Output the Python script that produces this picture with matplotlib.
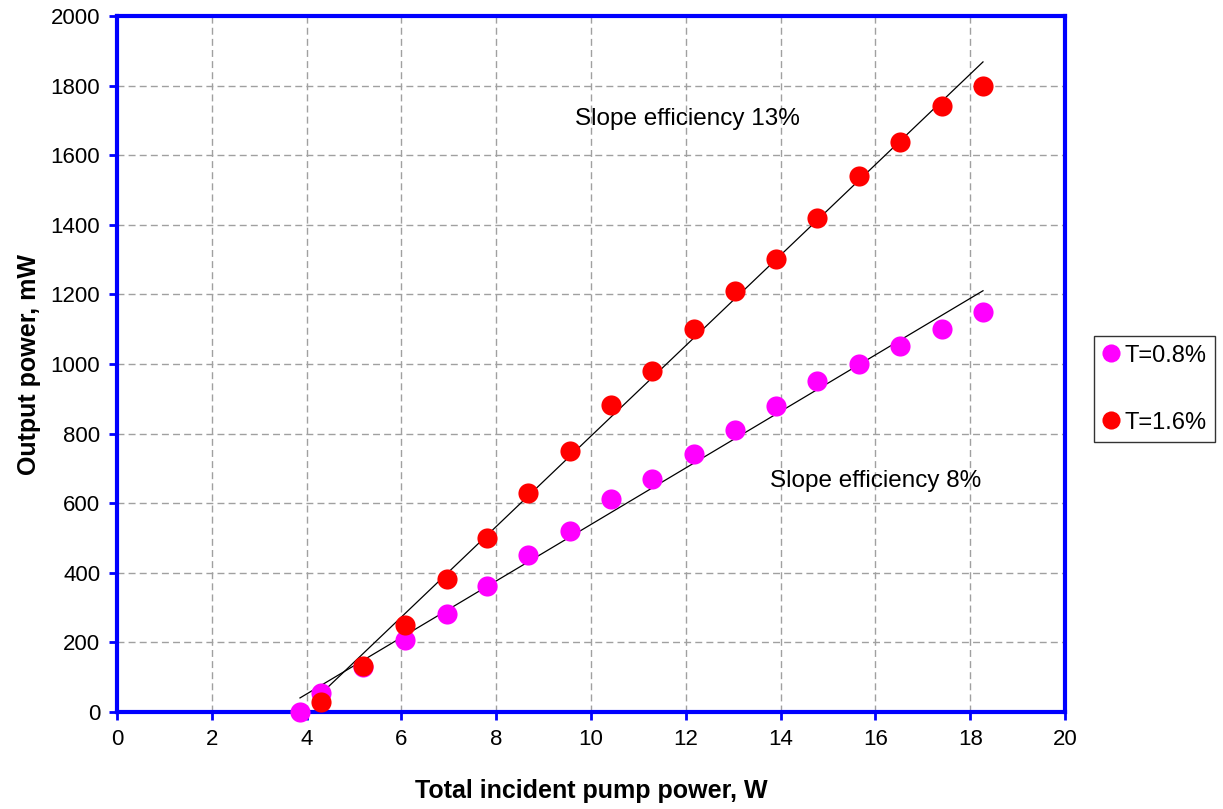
import numpy as np
import matplotlib
matplotlib.use('Agg')
import matplotlib.pyplot as plt

plt.rcParams['font.family'] = ['Liberation Sans', 'DejaVu Sans']

# pump power, W (same for both series)
pump_w = [3.86, 4.30, 5.19, 6.08, 6.96, 7.81, 8.67, 9.56, 10.42, 11.29,
          12.17, 13.04, 13.90, 14.77, 15.65, 16.52, 17.41, 18.27]

# output power, mW
out_t08 = [0, 55, 130, 207, 282, 362, 451, 520, 612, 669,
           741, 810, 879, 951, 1000, 1052, 1100, 1149]
out_t16 = [None, 29, 132, 250, 382, 500, 629, 750, 882, 980,
           1100, 1210, 1302, 1420, 1540, 1638, 1741, 1799]

# trend lines: slope (mW/W), intercept (mW), x range
fit_t08 = (81.2, -273.0, 3.86, 18.27)
fit_t16 = (130.0, -507.0, 4.30, 18.27)

xticks = np.arange(0, 21, 2)
yticks = np.arange(0, 2001, 200)

fig = plt.figure(figsize=(12.23, 8.09), dpi=100)
ax = fig.add_axes([0.0957, 0.1199, 0.7751, 0.8603])

for slope, icpt, x0, x1 in [fit_t08, fit_t16]:
    xs = np.array([x0, x1])
    ax.plot(xs, slope * xs + icpt, color='black', lw=0.9, zorder=3)

x16 = [x for x, y in zip(pump_w, out_t16) if y is not None]
y16 = [y for y in out_t16 if y is not None]
ax.plot(pump_w, out_t08, 'o', color='#ff00ff', ms=14.5, mec='none',
        label='T=0.8%', zorder=4, clip_on=False)
ax.plot(x16, y16, 'o', color='#ff0000', ms=14.5, mec='none',
        label='T=1.6%', zorder=4, clip_on=False)

ax.set_xlim(0, 20)
ax.set_ylim(0, 2000)
ax.set_xticks(xticks)
ax.set_yticks(yticks)
ax.grid(True, color='#a0a0a0', ls=(0, (5, 3)), lw=1)
ax.set_axisbelow(True)

for sp in ax.spines.values():
    sp.set_color('#0000ff')
    sp.set_linewidth(3)
ax.tick_params(direction='out', length=6, width=2, color='#0000ff',
               labelsize=16, pad=6)

ax.text(9.66, 1704, 'Slope efficiency 13%', fontsize=17.5, va='center')
ax.text(13.78, 664, 'Slope efficiency 8%', fontsize=17.5, va='center')

ax.set_xlabel('Total incident pump power, W', fontsize=18, fontweight='bold',
              labelpad=21)
ax.set_ylabel('Output power, mW', fontsize=18, fontweight='bold', labelpad=7)

leg = fig.legend(loc='center left', bbox_to_anchor=(0.8945, 0.519),
                 fontsize=17, frameon=True, fancybox=False, edgecolor='black',
                 labelspacing=1.9, handletextpad=0.25, markerscale=0.9,
                 borderpad=0.35, handlelength=0.7, borderaxespad=0)
leg.get_frame().set_linewidth(1)

fig.savefig('out.png', dpi=100)
